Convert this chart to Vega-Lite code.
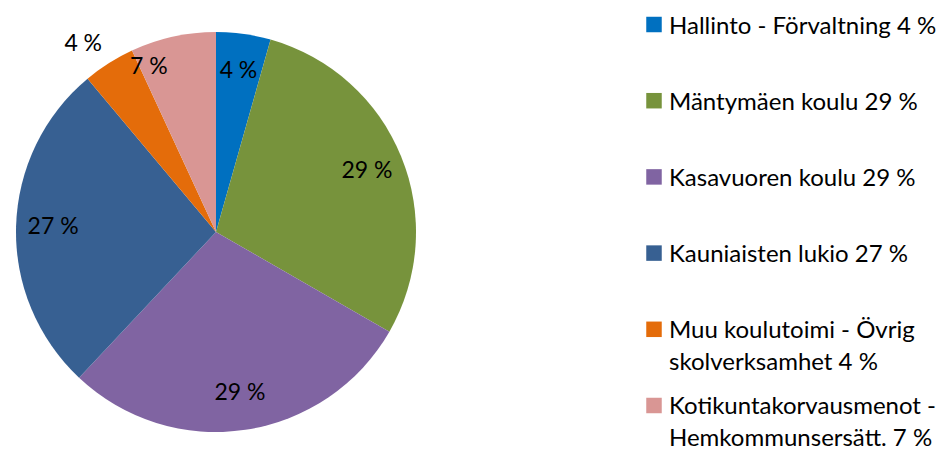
{
  "$schema": "https://vega.github.io/schema/vega-lite/v6.json",
  "padding": {"left": 0, "top": 13, "right": 0, "bottom": 0},
  "bounds": "flush",
  "spacing": 222,
  "config": {"view": {"stroke": null}, "font": "Lato"},
  "datasets": {
    "shares": [
      {"idx": 1, "cat": "Hallinto - Förvaltning", "value": 4.4, "label": "4 %", "legend": "Hallinto - Förvaltning 4 %"},
      {"idx": 2, "cat": "Mäntymäen koulu", "value": 28.9, "label": "29 %", "legend": "Mäntymäen koulu 29 %"},
      {"idx": 3, "cat": "Kasavuoren koulu", "value": 28.7, "label": "29 %", "legend": "Kasavuoren koulu 29 %"},
      {"idx": 4, "cat": "Kauniaisten lukio", "value": 26.9, "label": "27 %", "legend": "Kauniaisten lukio 27 %"},
      {"idx": 5, "cat": "Muu koulutoimi - Övrig skolverksamhet", "value": 4.2, "label": "4 %", "legend": "Muu koulutoimi - Övrig\nskolverksamhet 4 %"},
      {"idx": 6, "cat": "Kotikuntakorvausmenot - Hemkommunsersätt.", "value": 6.9, "label": "7 %", "legend": "Kotikuntakorvausmenot -\nHemkommunsersätt. 7 %"}
    ]
  },
  "hconcat": [
    {
      "width": 432,
      "height": 438,
      "data": {"name": "shares"},
      "encoding": {
        "theta": {"field": "value", "type": "quantitative", "stack": true},
        "order": {"field": "idx", "type": "quantitative"}
      },
      "layer": [
        {
          "mark": {"type": "arc", "outerRadius": 200},
          "encoding": {
            "color": {
              "field": "cat", "type": "nominal", "legend": null,
              "scale": {
                "domain": ["Hallinto - Förvaltning", "Mäntymäen koulu", "Kasavuoren koulu", "Kauniaisten lukio", "Muu koulutoimi - Övrig skolverksamhet", "Kotikuntakorvausmenot - Hemkommunsersätt."],
                "range": ["#0070C0", "#77933C", "#8064A2", "#376092", "#E46C0A", "#D99694"]
              }
            }
          }
        },
        {
          "mark": {
            "type": "text", "radius": 163, "fontSize": 23, "color": "#000000",
            "radiusOffset": {"expr": "datum.idx == 5 ? 67 : datum.idx == 6 ? 15 : 0"},
            "thetaOffset": {"expr": "datum.idx == 5 ? -0.05 : datum.idx == 6 ? -0.17 : 0"}
          },
          "encoding": {"text": {"field": "label"}}
        }
      ]
    },
    {
      "width": 290,
      "height": 404,
      "data": {"name": "shares"},
      "encoding": {
        "y": {"field": "cat", "type": "nominal", "sort": null, "axis": null, "scale": {"type": "point", "padding": 0.151}},
        "x": {"datum": 0, "type": "quantitative", "axis": null, "scale": {"domain": [0, 1]}}
      },
      "layer": [
        {
          "mark": {"type": "square", "size": 240, "filled": true, "opacity": 1},
          "encoding": {
            "color": {
              "field": "cat", "type": "nominal", "legend": null,
              "scale": {
                "domain": ["Hallinto - Förvaltning", "Mäntymäen koulu", "Kasavuoren koulu", "Kauniaisten lukio", "Muu koulutoimi - Övrig skolverksamhet", "Kotikuntakorvausmenot - Hemkommunsersätt."],
                "range": ["#0070C0", "#77933C", "#8064A2", "#376092", "#E46C0A", "#D99694"]
              }
            }
          }
        },
        {
          "mark": {"type": "text", "align": "left", "baseline": "alphabetic", "dx": 15, "dy": 9, "fontSize": 24, "lineHeight": 32, "lineBreak": "\n", "color": "#000000"},
          "encoding": {"text": {"field": "legend"}}
        }
      ]
    }
  ]
}
